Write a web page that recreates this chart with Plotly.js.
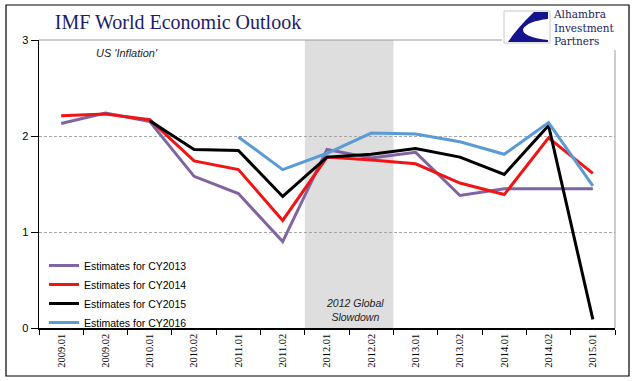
<!DOCTYPE html>
<html>
<head>
<meta charset="utf-8">
<script src="https://cdn.plot.ly/plotly-3.0.1.min.js"></script>
<style>html,body{margin:0;padding:0;background:#fff;}#chart{width:641px;height:381px;}</style>
</head>
<body>
<div id="chart"></div>
<script>
// ---- data ----
const periods = ['2009.01','2009.02','2010.01','2010.02','2011.01','2011.02','2012.01','2012.02','2013.01','2013.02','2014.01','2014.02','2015.01'];
const cy2013 = [2.13, 2.24, 2.15, 1.58, 1.40, 0.90, 1.86, 1.77, 1.83, 1.38, 1.45, 1.45, 1.45];
const cy2014 = [2.21, 2.23, 2.17, 1.74, 1.65, 1.12, 1.78, 1.75, 1.71, 1.51, 1.39, 1.98, 1.61];
const cy2015 = [null, null, 2.16, 1.86, 1.85, 1.37, 1.78, 1.81, 1.87, 1.78, 1.60, 2.11, 0.09];
const cy2016 = [null, null, null, null, 1.99, 1.65, 1.82, 2.03, 2.02, 1.94, 1.81, 2.14, 1.48];
const seriesNames = ['Estimates for CY2013','Estimates for CY2014','Estimates for CY2015','Estimates for CY2016'];

// ---- layout helpers (pixel -> paper) ----
const L = 39, R = 615, T = 40, B = 328;
const X = px => (px - L) / (R - L);
const Y = py => (B - py) / (B - T);

const colors = ['#8064A2', '#F01414', '#000000', '#5B9BD5'];
const allSeries = [cy2013, cy2014, cy2015, cy2016];
const traces = allSeries.map((s, i) => ({
  type: 'scatter', mode: 'lines', x: periods, y: s, name: seriesNames[i],
  line: {color: colors[i], width: 3}, connectgaps: false
}));

const iconPath = `M ${X(548)},${Y(12)} L ${X(534)},${Y(12)} Q ${X(518)},${Y(27)} ${X(508)},${Y(42)} L ${X(548)},${Y(42)} L ${X(548)},${Y(40)} Q ${X(522)},${Y(37)} ${X(523)},${Y(29)} Q ${X(528)},${Y(21)} ${X(548)},${Y(19)} Z`;

const layout = {
  width: 641, height: 381,
  margin: {l: L, r: 641 - R, t: T, b: 381 - B},
  paper_bgcolor: '#ffffff', plot_bgcolor: '#ffffff',
  showlegend: true,
  title: {
    text: 'IMF World Economic Outlook',
    font: {family: 'Liberation Serif, serif', size: 20, color: '#1c1c6e'},
    xref: 'container', x: 178 / 641, xanchor: 'center',
    yref: 'container', y: 1 - 22 / 381, yanchor: 'middle'
  },
  xaxis: {
    type: 'category', range: [-0.5, 12.5], tickson: 'boundaries',
    ticks: 'outside', ticklen: 5, tickcolor: '#000', tickwidth: 1,
    tickangle: -90, showline: true, linecolor: '#000', linewidth: 1.5,
    showgrid: false, zeroline: false, fixedrange: true,
    tickfont: {family: 'Liberation Serif, serif', size: 10.5, color: '#000'}
  },
  yaxis: {
    range: [0, 3], dtick: 1, tick0: 0,
    ticks: 'outside', ticklen: 7, tickcolor: '#000',
    showline: true, linecolor: '#000', linewidth: 1.5,
    showgrid: true, gridcolor: '#A6A6A6', griddash: '3px,2px', gridwidth: 1,
    zeroline: false, fixedrange: true,
    tickfont: {family: 'Liberation Sans, Arial, sans-serif', size: 11, color: '#000'}
  },
  legend: {
    x: X(44), y: Y(251), xanchor: 'left', yanchor: 'top',
    bgcolor: 'rgba(0,0,0,0)', borderwidth: 0, tracegroupgap: 0,
    font: {family: 'Liberation Sans, Arial, sans-serif', size: 10.5, color: '#000'}
  },
  shapes: [
    {type: 'rect', xref: 'x', yref: 'paper', x0: 5.5, x1: 7.5, y0: 0, y1: 1,
     fillcolor: '#DEDEDE', line: {width: 0}, layer: 'below'},
    {type: 'line', xref: 'paper', yref: 'paper', x0: 0, x1: 1, y0: 1, y1: 1,
     line: {color: '#9a9a9a', width: 1}, layer: 'above'},
    {type: 'line', xref: 'paper', yref: 'paper', x0: 1, x1: 1, y0: 0, y1: 1,
     line: {color: '#9a9a9a', width: 1}, layer: 'above'},
    {type: 'rect', xref: 'paper', yref: 'paper', x0: X(6), x1: X(629), y0: Y(376), y1: Y(5),
     line: {color: '#000', width: 1.2}, fillcolor: 'rgba(0,0,0,0)', layer: 'above'},
    {type: 'rect', xref: 'paper', yref: 'paper', x0: X(502), x1: X(626), y0: Y(50), y1: Y(7),
     line: {width: 0}, fillcolor: '#ffffff', layer: 'above'},
    {type: 'rect', xref: 'paper', yref: 'paper', x0: X(504), x1: X(550), y0: Y(43), y1: Y(11),
     line: {color: '#c8c8c8', width: 1}, fillcolor: '#ffffff', layer: 'above'},
    {type: 'path', xref: 'paper', yref: 'paper', path: iconPath,
     line: {width: 0}, fillcolor: '#14148c', layer: 'above'}
  ],
  annotations: [
    {text: "US 'Inflation'", xref: 'paper', yref: 'paper', x: X(94), y: Y(53),
     xanchor: 'left', yanchor: 'middle', showarrow: false,
     font: {family: 'Liberation Sans, Arial, sans-serif', size: 11, color: '#222', style: 'italic'}},
    {text: '2012 Global<br>Slowdown', xref: 'paper', yref: 'paper', x: X(355), y: Y(310),
     xanchor: 'center', yanchor: 'middle', showarrow: false, align: 'center',
     font: {family: 'Liberation Sans, Arial, sans-serif', size: 10.5, color: '#222', style: 'italic'}},
    {text: 'Alhambra<br>Investment<br>Partners', xref: 'paper', yref: 'paper', x: X(551), y: Y(28),
     xanchor: 'left', yanchor: 'middle', showarrow: false, align: 'left',
     font: {family: 'DejaVu Serif, serif', size: 10.5, color: '#1b1b5e'}}
  ]
};

Plotly.newPlot('chart', traces, layout, {displayModeBar: false, staticPlot: true});
</script>
</body>
</html>
